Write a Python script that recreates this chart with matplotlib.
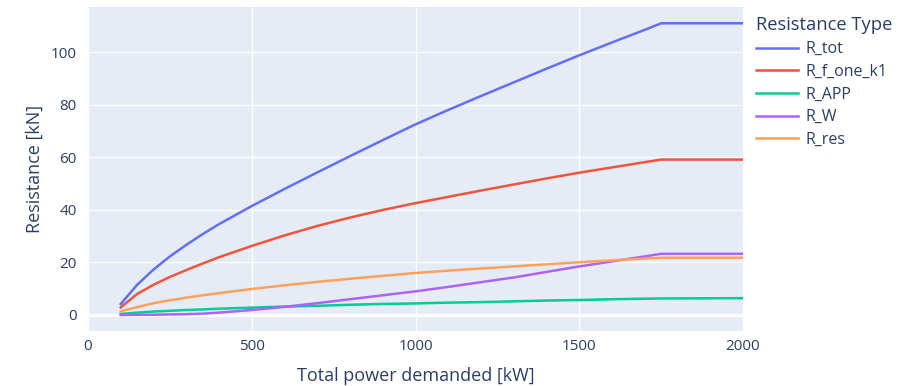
import matplotlib
matplotlib.use("Agg")
import matplotlib.pyplot as plt

plt.rcParams['font.family'] = ['Open Sans', 'DejaVu Sans']

power_kw = [100, 150, 200, 250, 300, 350, 400, 500, 600, 700, 800, 900, 1000,
            1100, 1200, 1300, 1400, 1500, 1600, 1700, 1750, 2000]

R_tot = [4.2, 11.5, 17.3, 22.3, 26.7, 30.8, 34.6, 41.5, 48.0, 54.3, 60.5, 66.6, 72.6,
         78.1, 83.4, 88.6, 93.8, 98.9, 103.8, 108.6, 111.1, 111.1]
R_f_one_k1 = [2.9, 8.0, 11.5, 14.5, 17.1, 19.6, 22.0, 26.3, 30.3, 33.9, 37.1, 40.0, 42.6,
              45.0, 47.4, 49.7, 52.0, 54.2, 56.2, 58.2, 59.2, 59.2]
R_APP = [0.4, 0.9, 1.3, 1.6, 1.9, 2.1, 2.4, 2.8, 3.2, 3.5, 3.9, 4.2, 4.4,
         4.7, 4.9, 5.2, 5.5, 5.7, 6.0, 6.2, 6.3, 6.4]
R_W = [0.0, 0.05, 0.1, 0.2, 0.3, 0.5, 0.9, 1.9, 3.1, 4.5, 6.0, 7.5, 9.0,
       10.7, 12.5, 14.3, 16.4, 18.5, 20.4, 22.3, 23.3, 23.3]
R_res = [1.4, 3.0, 4.5, 5.6, 6.6, 7.5, 8.3, 9.9, 11.3, 12.6, 13.8, 14.9, 16.0,
         16.9, 17.7, 18.5, 19.3, 20.1, 20.8, 21.5, 21.8, 21.8]

series = [("R_tot", R_tot, "#636efa"),
          ("R_f_one_k1", R_f_one_k1, "#EF553B"),
          ("R_APP", R_APP, "#00cc96"),
          ("R_W", R_W, "#ab63fa"),
          ("R_res", R_res, "#FFA15A")]

x_ticks = [0, 500, 1000, 1500, 2000]
y_ticks = [0, 20, 40, 60, 80, 100]

fig = plt.figure(figsize=(9.14, 3.86), dpi=100)
ax = fig.add_axes([88/914, 55/386, (743-88)/914, (331-7)/386])
ax.set_facecolor("#E5ECF6")

for name, vals, col in series:
    ax.plot(power_kw, vals, color=col, lw=1.8, label=name, zorder=3)

ax.set_xlim(0, 2000)
ax.set_ylim(-6.1, 117.3)
ax.set_xticks(x_ticks)
ax.set_yticks(y_ticks)
ax.grid(True, color="white", lw=1.0, zorder=0)
ax.axhline(0, color="white", lw=2.2, zorder=1)
for s in ax.spines.values():
    s.set_visible(False)
tc = "#2a3f5f"
ax.tick_params(length=0, labelsize=11, colors=tc, pad=6)
ax.tick_params(axis='y', pad=8)

ax.set_xlabel("Total power demanded [kW]", fontsize=13, color=tc, labelpad=9)
ax.set_ylabel("Resistance [kN]", fontsize=13, color=tc, labelpad=5)

leg = ax.legend(title="Resistance Type", loc="upper left",
                bbox_to_anchor=(750/914, 1.0 - 10/386), bbox_transform=fig.transFigure,
                frameon=False, fontsize=11.5, title_fontsize=13.2,
                handlelength=2.6, handletextpad=0.5, labelspacing=0.42,
                alignment="left", borderaxespad=0)
for t in leg.get_texts():
    t.set_color(tc)
leg.get_title().set_color(tc)

fig.savefig("out.png", dpi=100)
